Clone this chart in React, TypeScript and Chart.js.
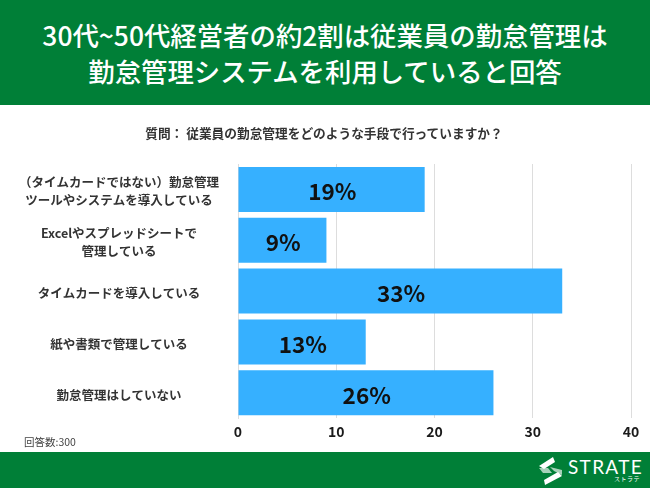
import React, { useEffect, useRef } from "react";
import { Chart, registerables } from "chart.js";

Chart.register(...registerables);

const FONT = '"Noto Sans CJK JP", "Noto Sans", sans-serif';
const GREEN = "#007F37";
const titleLines = ["30代~50代経営者の約2割は従業員の勤怠管理は", "勤怠管理システムを利用していると回答"];
const question = "質問： 従業員の勤怠管理をどのような手段で行っていますか？";
const note = "回答数:300";
const brand = "STRATE";
const brandKana = "ストラテ";
const categories = [
  ["（タイムカードではない）勤怠管理", "ツールやシステムを導入している"],
  ["Excelやスプレッドシートで", "管理している"],
  "タイムカードを導入している",
  "紙や書類で管理している",
  "勤怠管理はしていない",
];
const values = [19, 9, 33, 13, 26];
const axisTicks = [0, 10, 20, 30, 40];

const valueLabels = {
  id: "valueLabels",
  afterDatasetsDraw(chart: any) {
    const { ctx } = chart;
    const meta = chart.getDatasetMeta(0);
    ctx.save();
    ctx.font = `700 22.5px ${FONT}`;
    ctx.fillStyle = "#111111";
    ctx.textAlign = "center";
    ctx.textBaseline = "middle";
    meta.data.forEach((bar: any, i: number) => {
      const x0 = chart.scales.x.getPixelForValue(0);
      ctx.fillText(`${values[i]}%`, (x0 + bar.x) / 2 + 1, bar.y + 2.5);
    });
    ctx.restore();
  },
};

const abs = (s: React.CSSProperties): React.CSSProperties => ({ position: "absolute", fontFamily: FONT, ...s });

export default function App() {
  const ref = useRef<HTMLCanvasElement>(null);
  useEffect(() => {
    const chart = new Chart(ref.current!, {
      type: "bar",
      data: {
        labels: categories as any,
        datasets: [{ data: values, backgroundColor: "#36B0FF", barPercentage: 0.885, categoryPercentage: 1 }],
      },
      options: {
        indexAxis: "y",
        animation: false,
        responsive: false,
        layout: { padding: { left: 0, right: 19, top: 164, bottom: 43 } },
        plugins: { legend: { display: false }, tooltip: { enabled: false } },
        scales: {
          x: {
            min: 0,
            max: 40,
            afterBuildTicks: (a: any) => { a.ticks = axisTicks.map((value) => ({ value })); },
            grid: { color: "#DDDDDD", drawTicks: false },
            border: { display: false },
            ticks: { color: "#1A1A1A", font: { family: FONT, size: 14, weight: 700 }, padding: 5, maxRotation: 0 },
          },
          y: {
            afterFit: (a: any) => { a.width = 238; },
            grid: { display: false },
            border: { color: "#DDDDDD" },
            ticks: {
              crossAlign: "center",
              color: "#333333",
              font: { family: FONT, size: 12.5, weight: 700, lineHeight: 1.45 },
              padding: 11,
              labelOffset: 2,
            },
          },
        },
      },
      plugins: [valueLabels],
    } as any);
    return () => chart.destroy();
  }, []);

  return (
    <div style={{ position: "absolute", left: 0, top: 0, width: 650, height: 488, background: "#fff", overflow: "hidden" }}>
      <canvas ref={ref} width={650} height={488} style={{ position: "absolute", left: 0, top: 0, width: 650, height: 488 }} />
      <div style={abs({ left: 0, top: 0, width: 650, height: 105, background: GREEN })} />
      {titleLines.map((t, i) => (
        <div key={i} style={abs({ left: 0, top: 17 + i * 36, width: 650, textAlign: "center", color: "#fff", fontSize: 26.4, fontWeight: 500, lineHeight: "36px", whiteSpace: "nowrap" })}>{t}</div>
      ))}
      <div style={abs({ left: 0, top: 124, width: 648, textAlign: "center", color: "#333", fontSize: 12.7, fontWeight: 700, lineHeight: "18px", whiteSpace: "nowrap" })}>{question}</div>
      <div style={abs({ left: 24, top: 434, color: "#444", fontSize: 10.5, lineHeight: "16px" })}>{note}</div>
      <div style={abs({ left: 0, top: 452, width: 650, height: 36, background: GREEN })} />
      <svg style={{ position: "absolute", left: 538, top: 456 }} width="26" height="30" viewBox="0 0 26 30">
        <polygon points="15,1 17,6 6,13 1,10" fill="#fff" />
        <polygon points="1,12 10,12 14,17 5,17" fill="#fff" opacity="0.65" />
        <polygon points="12,11 24,14 24,19 16,15" fill="#fff" opacity="0.65" />
        <polygon points="24,20 7,29 6,24 20,16" fill="#fff" />
      </svg>
      <div style={abs({ left: 568, top: 454, color: "#fff", fontFamily: '"Lato", sans-serif', fontSize: 19, fontWeight: 400, letterSpacing: 1.3, lineHeight: "26px" })}>{brand}</div>
      <div style={abs({ left: 614, top: 475, color: "#fff", fontSize: 6, lineHeight: "8px", letterSpacing: 0.5, whiteSpace: "nowrap" })}>{brandKana}</div>
    </div>
  );
}
